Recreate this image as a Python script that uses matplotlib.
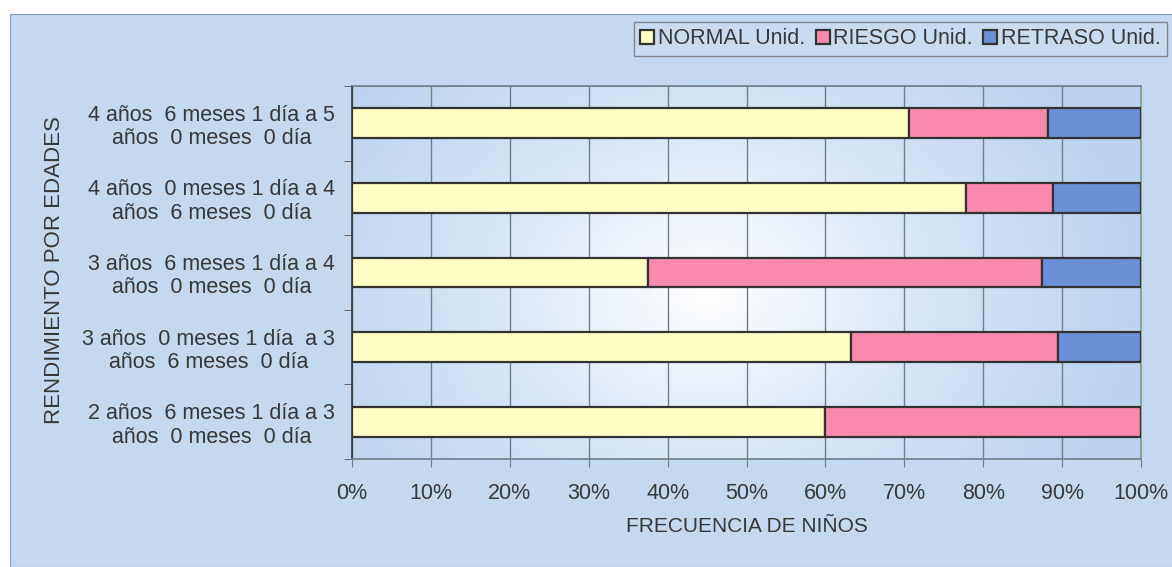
import numpy as np
import matplotlib
matplotlib.use("Agg")
import matplotlib.pyplot as plt
from matplotlib.patches import Rectangle

plt.rcParams["font.family"] = ["Liberation Sans", "DejaVu Sans"]

#----------------------------------------------------------------------------------------------------
# Data: percentage of children per age group and result
#----------------------------------------------------------------------------------------------------
edades = [
    "2 años  6 meses 1 día a 3\naños  0 meses  0 día",
    "3 años  0 meses 1 día  a 3\naños  6 meses  0 día",
    "3 años  6 meses 1 día a 4\naños  0 meses  0 día",
    "4 años  0 meses 1 día a 4\naños  6 meses  0 día",
    "4 años  6 meses 1 día a 5\naños  0 meses  0 día",
]
normal = [60.0, 63.2, 37.5, 77.8, 70.6]
riesgo = [40.0, 26.3, 50.0, 11.1, 17.6]
retraso = [0.0, 10.5, 12.5, 11.1, 11.8]

serie_nombres = ["NORMAL Unid.", "RIESGO Unid.", "RETRASO Unid."]
serie_colores = ["#ffffc4", "#f98aae", "#6b90d6"]

texto = "#383838"

#----------------------------------------------------------------------------------------------------
# Figure and background
#----------------------------------------------------------------------------------------------------
fig = plt.figure(figsize=(11.72, 5.67), dpi=100, facecolor="white")
fig.patches.append(Rectangle((10 / 1172, 0), 1, 1 - 14 / 567, transform=fig.transFigure,
                             facecolor="#c4d8f0", edgecolor="#8a9ab0", linewidth=0.8, zorder=-5))

ax = fig.add_axes([352 / 1172, 1 - 459 / 567, 789 / 1172, 373 / 567])
ax.set_facecolor("none")

# soft highlight in the plot area
gx = np.linspace(0, 1, 300)
gy = np.linspace(0, 1, 120)
X, Y = np.meshgrid(gx, gy)
d = np.sqrt(((X - 0.45) / 0.55) ** 2 + ((Y - 0.45) / 0.9) ** 2)
light = np.clip(1 - d, 0, 1) ** 1.2
base = np.array([0.74, 0.83, 0.94])
white = np.array([1.0, 1.0, 1.0])
img = base[None, None, :] * (1 - light[..., None]) + white[None, None, :] * light[..., None]
ax.imshow(img, extent=[0, 100, -0.5, 4.5], aspect="auto", zorder=0, origin="lower")

#----------------------------------------------------------------------------------------------------
# Stacked bars
#----------------------------------------------------------------------------------------------------
y = np.arange(len(edades))
left = np.zeros(len(edades))
for valores, nombre, color in zip([normal, riesgo, retraso], serie_nombres, serie_colores):
    ax.barh(y, valores, left=left, height=0.4, color=color, edgecolor="#333333",
            linewidth=1.6, label=nombre, zorder=3)
    left = left + np.array(valores)

ax.set_xlim(0, 100)
ax.set_ylim(-0.5, 4.5)
ax.set_xticks(np.arange(0, 101, 10))
ax.set_xticklabels([f"{v}%" for v in range(0, 101, 10)])
ax.set_yticks(y)
ax.set_yticklabels(edades, multialignment="center", linespacing=1.15)
ax.set_yticks(np.arange(-0.5, 4.6, 1), minor=True)
ax.tick_params(axis="y", which="major", length=0, pad=12, labelsize=15.5, labelcolor=texto)
ax.tick_params(axis="y", which="minor", length=6, color="#555555", direction="out")
ax.tick_params(axis="x", length=6, color="#6d7d80", pad=11, labelsize=15.5, labelcolor=texto)

ax.grid(axis="x", color="#6f8088", linewidth=1.0, zorder=1)
ax.axhline(4.5, color="#6f8088", linewidth=1.2, zorder=1)
for lado, color in [("left", "#333333"), ("bottom", "#6f8088"), ("top", "#6f8088"), ("right", "#7d9a80")]:
    ax.spines[lado].set_color(color)
    ax.spines[lado].set_linewidth(1.2)

ax.set_xlabel("FRECUENCIA DE NIÑOS", fontsize=15, color=texto, labelpad=10)
fig.text(55 / 1172, 1 - 270 / 567, "RENDIMIENTO POR EDADES", rotation=90, fontsize=16,
         color=texto, ha="center", va="center")

leg = fig.legend(*ax.get_legend_handles_labels(), loc="upper left",
                 bbox_to_anchor=(634 / 1172, 1 - 22 / 567),
                 ncol=3, frameon=True, fontsize=15.5, handlelength=0.65, handleheight=0.65,
                 handletextpad=0.15, columnspacing=0.5, borderpad=0.3, borderaxespad=0,
                 fancybox=False)
leg.get_frame().set_facecolor("#cbdcf2")
leg.get_frame().set_edgecolor("#707070")
for t in leg.get_texts():
    t.set_color(texto)

fig.savefig("out.png", dpi=100)
